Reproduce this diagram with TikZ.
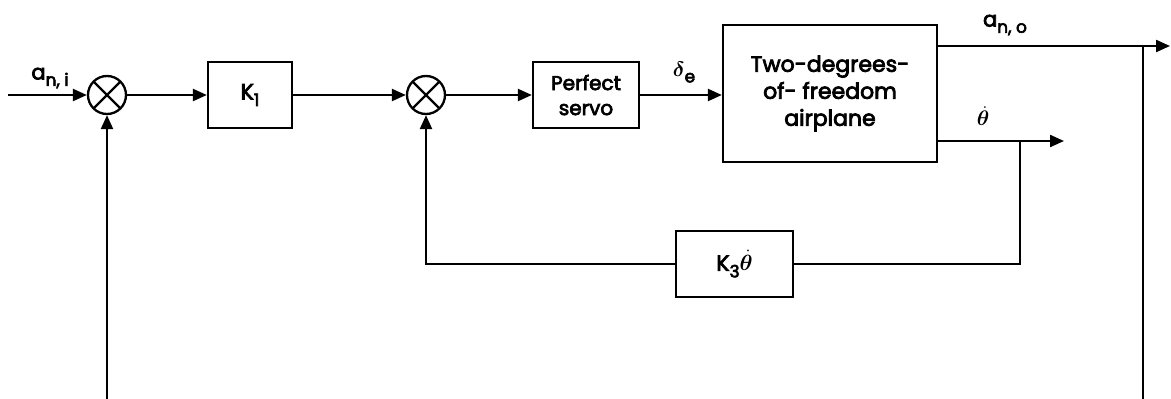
\documentclass[tikz,border=0pt]{standalone}
\usepackage{fix-cm}
\usepackage{bm}
\usepackage{fontspec}
\setmainfont{Poppins}[FakeBold=3.5]
\usetikzlibrary{arrows.meta}
\newcommand{\sbs}[1]{\raisebox{-0.3em}{\fontsize{17}{17}\selectfont #1}}
\newcommand{\thd}{$\bm{\dot\theta}$}
\newcommand{\dlt}{$\bm{\delta}$}
\begin{document}
\begin{tikzpicture}[x=1pt,y=-1pt, line width=2.3pt,
  blk/.style={draw, inner sep=0pt, align=center, font=\fontsize{22}{27}\selectfont},
  sum/.style={draw, circle, minimum size=38pt, inner sep=0pt,
    path picture={\draw[line width=2.3pt] (path picture bounding box.north west)--(path picture bounding box.south east)
      (path picture bounding box.north east)--(path picture bounding box.south west);}},
  sig/.style={-{Triangle[length=14pt,width=12pt]}},
  lbl/.style={font=\fontsize{21}{24}\selectfont, inner sep=1pt}]
\useasboundingbox (0,0) rectangle (1171,399);
% blocks
\node[sum] (s1) at (107,95) {};
\node[blk, minimum width=84pt, minimum height=66pt] (k1) at (250,95) {K\sbs{1}};
\node[sum] (s2) at (426,95) {};
\node[blk, minimum width=106pt, minimum height=66pt, font=\fontsize{20}{25}\selectfont] (servo) at (586,95) {Perfect\\servo};
\node[blk, minimum width=214pt, minimum height=137pt] (air) at (830,93.5) {Two-degrees-\\of- freedom\\airplane};
\node[blk, minimum width=117pt, minimum height=66pt] (k3) at (734.5,264) {K\sbs{3}\thd};
% coordinates
\coordinate (in) at (8,95);
\coordinate (aout) at (1170,46);
\coordinate (tout) at (1064,141);
\coordinate (br1) at (1143,46);
\coordinate (bot1) at (1143,402);
\coordinate (br2) at (1020,141);
\coordinate (bot0) at (107,402);
% connectors
\draw[sig] (in) -- (s1.west);
\draw[sig] (s1.east) -- (k1.west);
\draw[sig] (k1.east) -- (s2.west);
\draw[sig] (s2.east) -- (servo.west);
\draw[sig] (servo.east) -- (air.west |- servo.east);
\draw[sig] (air.east |- aout) -- (aout);
\draw[sig] (air.east |- tout) -- (tout);
\draw (br1) -- (bot1);
\draw (br2) |- (k3.east);
\draw[sig] (k3.west) -| (s2.south);
\draw[sig] (bot0) -- (s1.south);
% labels
\node[lbl] (lai) at (50,78) {a\sbs{n, i}};
\node[lbl] (lde) at (684,72) {\dlt\sbs{e}};
\node[lbl] (lao) at (1005,25) {a\sbs{n, o}};
\node[lbl] (lth) at (983,116) {\thd};
\end{tikzpicture}
\end{document}
